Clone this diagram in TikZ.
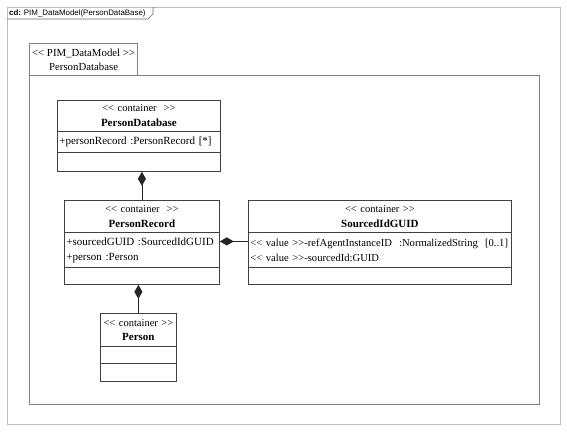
\documentclass[tikz,border=0pt]{standalone}
\usepackage{fontspec}
\setmainfont{Liberation Serif}
\newfontfamily\tabfont{Liberation Sans}
\usetikzlibrary{arrows.meta, positioning}

% stereotype brackets, kept apart so they stay two characters
\newcommand{\stereo}[1]{<\kern0pt< #1 >\kern0pt>}
\newcommand{\clsname}[1]{\fontsize{11}{15}\selectfont\textbf{#1}}

\begin{document}
\begin{tikzpicture}[x=1pt, y=-1pt,
        frame/.style={draw=black!25, line width=0.8pt, anchor=north west, inner sep=0pt},
        pkg/.style={draw=black!50, line width=1.2pt, anchor=north west, inner sep=0pt},
        namebox/.style={draw=black!75, line width=0.8pt, anchor=north west, inner sep=0pt, align=center, font=\fontsize{10.5}{15}\selectfont},
        attrbox/.style={draw=black!75, line width=0.8pt, anchor=north west, inner xsep=2pt, inner ysep=0pt, align=left, font=\fontsize{11}{15}\selectfont},
        comp/.style={-{Diamond[length=14pt, width=8pt]}, draw=black!85, line width=0.8pt}
    ]
        \useasboundingbox (0,0) rectangle (567,432);

        % diagram frame and its tab
        \node[frame, minimum width=553pt, minimum height=417pt] (frame) at (7,7) {};
        \draw[black!60, line width=0.6pt] (7,19) -- (148,19) -- (153,14) -- (153,7);
        \node[anchor=west, inner sep=0pt, font=\tabfont\fontsize{7.9}{9}\selectfont] (title) at (9,13) {\textbf{cd:} PIM\_DataModel(PersonDataBase)};

        % package
        \node[pkg, minimum width=108pt, minimum height=32pt, align=center, font=\fontsize{10.8}{14}\selectfont] (pkgtab) at (29,43) {\stereo{PIM\_DataModel}\\PersonDatabase};
        \node[pkg, minimum width=510pt, minimum height=329pt] (pkg) at (29,75) {};

        % PersonDatabase
        \node[namebox, text width=163pt, minimum height=31pt] (pdb) at (57,100) {\stereo{container\ }\\\clsname{PersonDatabase}};
        \node[attrbox, text width=159pt, minimum height=21pt] (pdb-attr) at (57,131) {+personRecord :PersonRecord [*]};
        \node[attrbox, text width=159pt, minimum height=19pt] (pdb-ops) at (57,152) {};

        % PersonRecord
        \node[namebox, text width=155pt, minimum height=32pt] (pr) at (64,200) {\stereo{container\ }\\\clsname{PersonRecord}};
        \node[attrbox, text width=151pt, minimum height=35pt] (pr-attr) at (64,232) {+sourcedGUID :SourcedIdGUID\\+person :Person};
        \node[attrbox, text width=151pt, minimum height=17pt] (pr-ops) at (64,267) {};

        % SourcedIdGUID
        \node[namebox, text width=263pt, minimum height=32pt] (sid) at (248,200) {\stereo{container}\\\clsname{SourcedIdGUID}};
        \node[attrbox, text width=259pt, minimum height=35pt, font=\fontsize{10.6}{15}\selectfont] (sid-attr) at (248,232) {\stereo{value}-refAgentInstanceID\ \ :NormalizedString\ \ [0..1]\\\stereo{value}-sourcedId:GUID};
        \node[attrbox, text width=259pt, minimum height=17pt] (sid-ops) at (248,267) {};

        % Person
        \node[namebox, text width=76pt, minimum height=33pt, font=\fontsize{10.5}{14}\selectfont] (per) at (100,313) {\stereo{container}\\\clsname{Person}};
        \node[attrbox, text width=72pt, minimum height=17pt] (per-attr) at (100,346) {};
        \node[attrbox, text width=72pt, minimum height=18pt] (per-ops) at (100,363) {};

        \coordinate (pr-link) at ([yshift=8.5pt]pr-attr.east);

        \draw[comp] (pr.north) -- (pr.north |- pdb-ops.south);
        \draw[comp] (sid-attr.west |- pr-link) -- (pr-link);
        \draw[comp] (per.north) -- (per.north |- pr-ops.south);
    \end{tikzpicture}
\end{document}
